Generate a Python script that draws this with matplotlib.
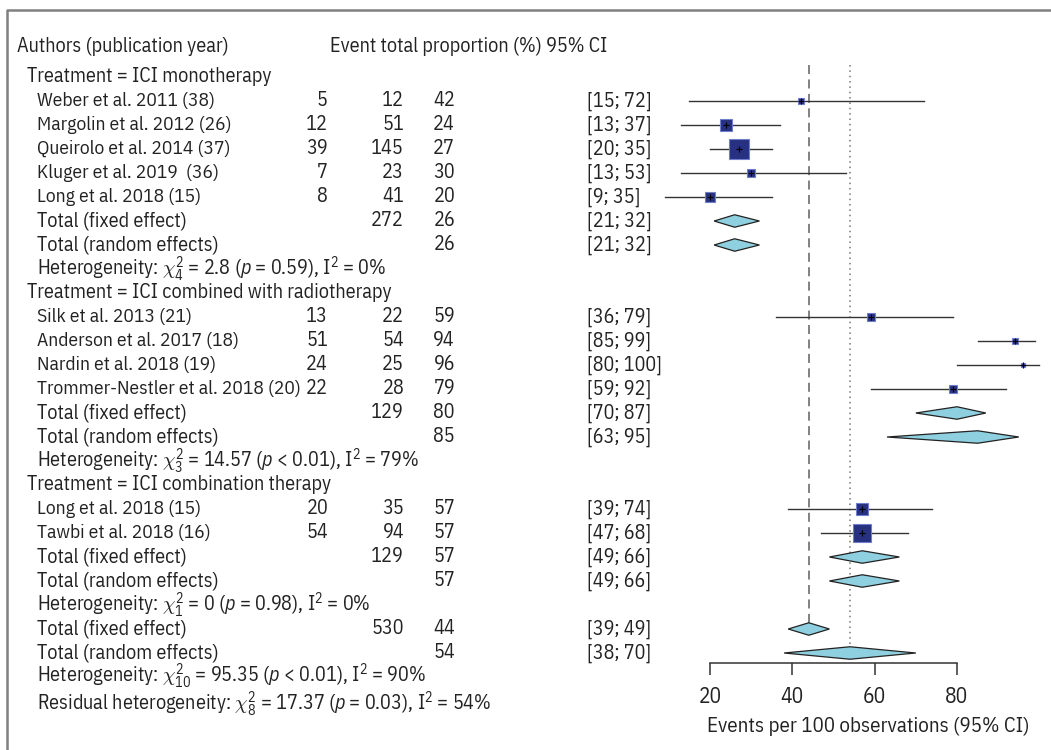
import numpy as np
import matplotlib
matplotlib.use("Agg")
import matplotlib.pyplot as plt
import matplotlib.transforms as mtransforms
from matplotlib import font_manager

# Data
groups = ["ICI monotherapy", "ICI combined with radiotherapy", "ICI combination therapy"]
studies = ["Weber et al. 2011 (38)", "Margolin et al. 2012 (26)", "Queirolo et al. 2014 (37)",
           "Kluger et al. 2019  (36)", "Long et al. 2018 (15)",
           "Silk et al. 2013 (21)", "Anderson et al. 2017 (18)", "Nardin et al. 2018 (19)",
           "Trommer-Nestler et al. 2018 (20)",
           "Long et al. 2018 (15)", "Tawbi et al. 2018 (16)"]
study_group = [0, 0, 0, 0, 0, 1, 1, 1, 1, 2, 2]
events = [5, 12, 39, 7, 8, 13, 51, 24, 22, 20, 54]
totals = [12, 51, 145, 23, 41, 22, 54, 25, 28, 35, 94]
props = [42, 24, 27, 30, 20, 59, 94, 96, 79, 57, 57]
ci_lo = [15, 13, 20, 13, 9, 36, 85, 80, 59, 39, 47]
ci_hi = [72, 37, 35, 53, 35, 79, 99, 100, 92, 74, 68]
weights = [2.9, 9.3, 28.6, 4.8, 6.6, 5.3, 3.0, 1.0, 4.6, 8.6, 23.0]

fixed_n = [272, 129, 129]
fixed_est = [26, 80, 57]
fixed_lo = [21, 70, 49]
fixed_hi = [32, 87, 66]
random_est = [26, 85, 57]
random_lo = [21, 63, 49]
random_hi = [32, 95, 66]
het_df = ["4", "3", "1"]
het_q = ["2.8", "14.57", "0"]
het_p = ["= 0.59", "< 0.01", "= 0.98"]
het_i2 = [0, 79, 0]

overall_n = 530
overall_fixed = [44, 39, 49]
overall_random = [54, 38, 70]
overall_het = ["10", "95.35", "< 0.01", 90]
resid_het = ["8", "17.37", "= 0.03", 54]

xticks = [20, 40, 60, 80]

# fonts: a condensed sans close to the original
avail = {f.name for f in font_manager.fontManager.ttflist}
main_font = next((f for f in ["IBM Plex Sans Condensed", "Roboto Condensed", "Liberation Sans Narrow"]
                  if f in avail), "DejaVu Sans")
plt.rcParams["font.family"] = [main_font, "DejaVu Sans"]
plt.rcParams["mathtext.fontset"] = "custom"
plt.rcParams["mathtext.rm"] = main_font
plt.rcParams["mathtext.it"] = main_font + ":italic"
FS = 14.5

W, H = 1051, 750
fig = plt.figure(figsize=(W / 100, H / 100), dpi=100)
ax = fig.add_axes([0, 0, 1, 1])

# map data so that 20 -> 710 px and 80 -> 957 px; row r at 77 + 24 r px
ppu = (957 - 710) / 60
ax.set_xlim(20 - 710 / ppu, 20 + (W - 710) / ppu)
ax.set_ylim((H - 77) / 24, -77 / 24)
for s in ["left", "right", "top"]:
    ax.spines[s].set_visible(False)
ax.set_yticks([])

tr = mtransforms.blended_transform_factory(fig.transFigure, ax.transData)


def txt(px, row, s, ha="left", fs=FS):
    ax.text(px / W, row, s, transform=tr, ha=ha, va="center", fontsize=fs, color="#222222")


def diamond(row, est, lo, hi):
    h = 0.26
    ax.fill([lo, est, hi, est], [row, row - h, row, row + h], facecolor="#8fd0e0",
            edgecolor="#222222", linewidth=0.9, zorder=3)


# header
txt(17, -1.25, "Authors (publication year)")
txt(330, -1.25, "Event total proportion (%) 95% CI")

row = 0
for g, gname in enumerate(groups):
    txt(27, row, "Treatment = " + gname)
    row += 1
    for i in range(len(studies)):
        if study_group[i] != g:
            continue
        txt(37, row, studies[i], fs=14)
        txt(328, row, str(events[i]), ha="right")
        txt(404, row, str(totals[i]), ha="right")
        txt(455, row, str(props[i]), ha="right")
        txt(587, row, "[%d; %d]" % (ci_lo[i], ci_hi[i]))
        ax.plot([ci_lo[i], ci_hi[i]], [row, row], color="#333333", lw=1.0, zorder=2)
        side = max(3.9 * np.sqrt(weights[i]), 4.5) * 0.72
        ax.plot(props[i], row, marker="s", ms=side, mfc="#283080", mec="#6f7fcc",
                mew=0.8, zorder=4)
        ax.plot(props[i], row, marker="+", ms=5, color="black", mew=0.8, zorder=5)
        row += 1
    txt(37, row, "Total (fixed effect)")
    txt(404, row, str(fixed_n[g]), ha="right")
    txt(455, row, str(fixed_est[g]), ha="right")
    txt(587, row, "[%d; %d]" % (fixed_lo[g], fixed_hi[g]))
    diamond(row, fixed_est[g], fixed_lo[g], fixed_hi[g])
    row += 1
    txt(37, row, "Total (random effects)")
    txt(455, row, str(random_est[g]), ha="right")
    txt(587, row, "[%d; %d]" % (random_lo[g], random_hi[g]))
    diamond(row, random_est[g], random_lo[g], random_hi[g])
    row += 1
    txt(37, row, r"Heterogeneity: $\chi^2_{%s}$ = %s ($p$ %s), I$^2$ = %d%%"
        % (het_df[g], het_q[g], het_p[g], het_i2[g]))
    row += 1

# overall
fixed_row = row
txt(37, row, "Total (fixed effect)")
txt(404, row, str(overall_n), ha="right")
txt(455, row, str(overall_fixed[0]), ha="right")
txt(587, row, "[%d; %d]" % (overall_fixed[1], overall_fixed[2]))
diamond(row, *overall_fixed)
row += 1
random_row = row
txt(37, row, "Total (random effects)")
txt(455, row, str(overall_random[0]), ha="right")
txt(587, row, "[%d; %d]" % (overall_random[1], overall_random[2]))
diamond(row, *overall_random)
row += 1
txt(37, row - 0.05, r"Heterogeneity: $\chi^2_{%s}$ = %s ($p$ %s), I$^2$ = %d%%" % tuple(overall_het))
row += 1
txt(37, row + 0.12,
    r"Residual heterogeneity: $\chi^2_{%s}$ = %s ($p$ %s), I$^2$ = %d%%" % tuple(resid_het))

# reference lines
ax.plot([overall_fixed[0]] * 2, [-0.5, fixed_row - 0.26], color="#777777", lw=1.3,
        dashes=(5, 3), zorder=1)
ax.plot([overall_random[0]] * 2, [-0.5, random_row - 0.26], color="#777777", lw=1.1,
        dashes=(1, 2.5), zorder=1)

# x axis
axis_row = (663 - 77) / 24
ax.spines["bottom"].set_position(("data", axis_row))
ax.spines["bottom"].set_bounds(xticks[0], xticks[-1])
ax.spines["bottom"].set_color("#333333")
ax.spines["bottom"].set_linewidth(1.1)
ax.set_xticks(xticks)
ax.tick_params(axis="x", direction="out", length=8.6, width=1.1, color="#333333",
               labelsize=FS + 1, pad=8, labelcolor="#222222")
ax.text(868 / W, (727 - 77) / 24, "Events per 100 observations (95% CI)", transform=tr,
        ha="center", va="center", fontsize=FS + 0.5, color="#222222")

# frame around the figure (open at right and bottom)
fig.add_artist(plt.Line2D([7 / W, 7 / W, 1], [0, 1 - 10 / H, 1 - 10 / H],
                          transform=fig.transFigure, color="#808080", lw=1.8))

fig.savefig("out.png", dpi=100)
